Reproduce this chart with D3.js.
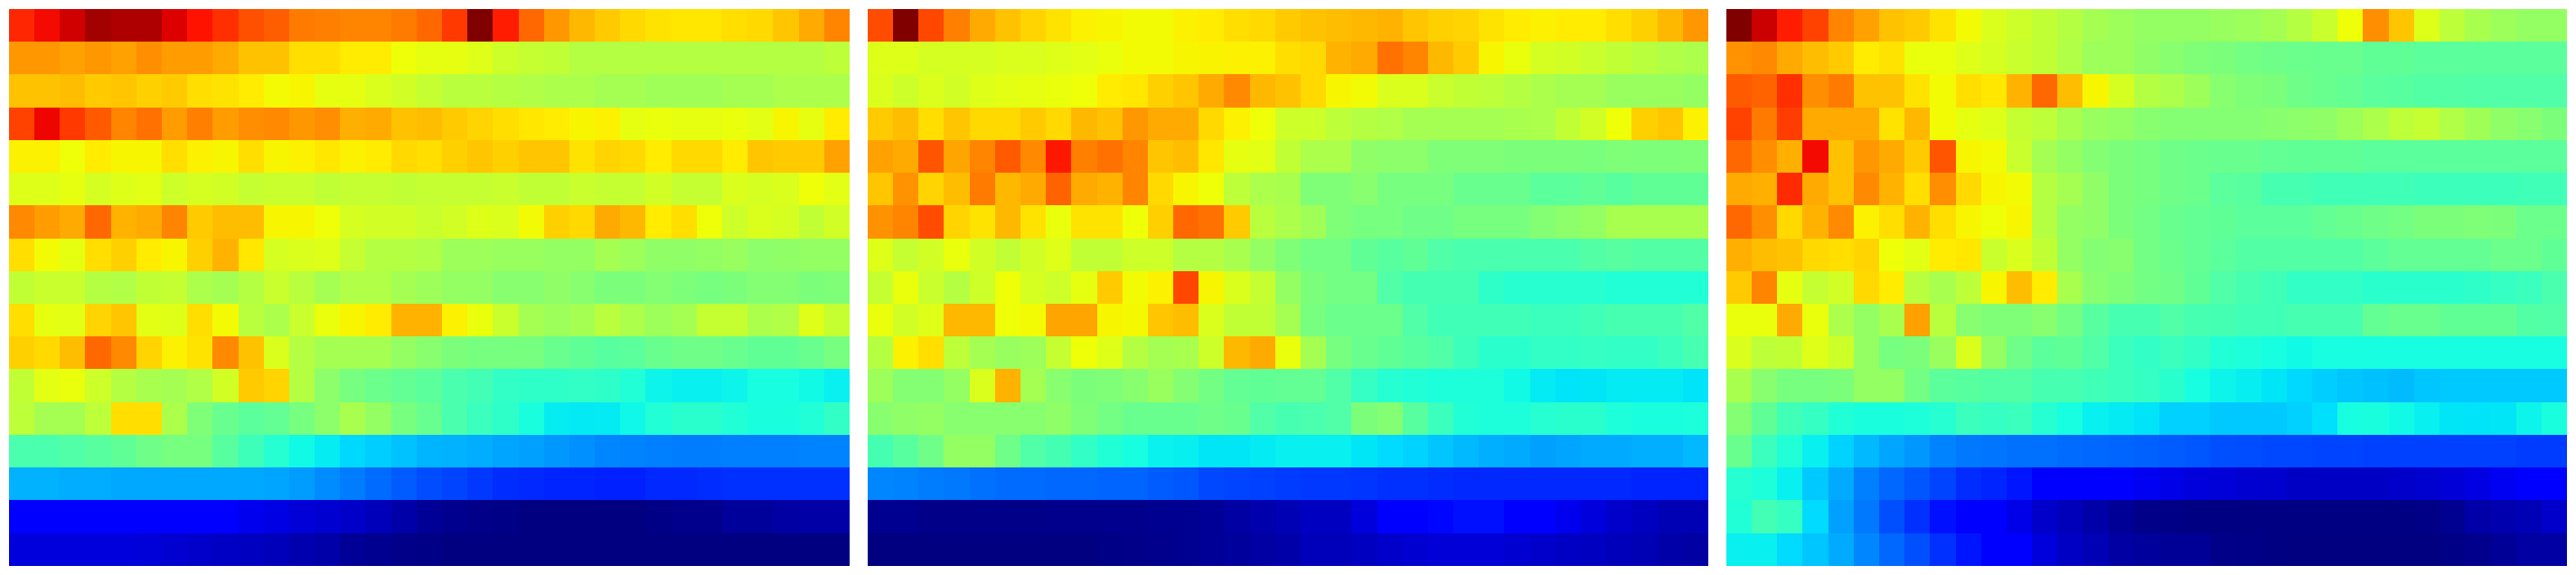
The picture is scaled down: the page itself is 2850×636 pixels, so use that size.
<!DOCTYPE html>
<html>
<head>
<meta charset="utf-8">
<style>html,body{margin:0;padding:0;background:#fff}svg{display:block}</style>
<script src="https://cdn.jsdelivr.net/npm/d3@7"></script>
</head>
<body>
<script>
const panelA = [
[87,90,93,97,96,96,92,89,86,82.5,81,78,77.5,77,77,78,80, 85,100,88,80,75,71.5,69.5,68,67,66.5,66.5,67.5,68,70,73,77],
[75,75,74,75,74,76,74.5,74.5,73,70.5,70.5,67.5,67.5,66,66,64,63, 63,62,60,59,58.5,57,57,57,57,57,57,57,57,57,57,58],
[70.5,70.5,71,69.5,70,69,69.5,67.5,67,66,64.5,65,63,63,61.5,60.5,59, 57.5,57.5,57,56.5,56,56,55,55,54.5,54.5,54.5,55,55,56,56,56],
[84,90.5,85,81.5,77,79,74.5,77.5,74.5,76,76.5,75,76,72.5,73,70.5,71, 69.5,68.5,67.5,66.5,66,65,65.5,63,63.5,63,63,63.5,62.5,65,63,66],
[65.5,65.5,64,66,65,65,67.5,65.5,65,67.5,65,65.5,66.5,65.5,66,68,67.5, 69,70,69,70,70,67,68.5,68,66,68,68,66,70,69.5,69.5,74],
[62,62,63,61,62,62.5,60,61,60.5,59,59.5,59.5,58.5,59,59,58.5,59, 59,59,59.5,58.5,58.5,59.5,59,59,60.5,59,59,61.5,61,61.5,64,62.5],
[76.5,74.5,73,80,72,73,77,69.5,71,71,65,65,64,61,60.5,60.5,59.5, 60.5,62,61.5,64.5,69,68,73,71.5,66,67.5,64,60,61.5,61,58.5,60.5],
[67.5,64.5,63,67.5,69,66,65,69,72,66.5,61,61.5,62,59,57,57,56.5, 54,54,53.5,53.5,53,53,55,54,52.5,52.5,53,53.5,52,52.5,53,53],
[58.5,59.5,59.5,57,56.5,58.5,59,56,55,57,59.5,57.5,55,56.5,56.5,55,54, 53,53,51.5,51.5,52.5,51.5,50,50,51,50.3,49.5,50,51,51,50,50.5],
[67.5,63,62.5,68.5,70,62.5,62,67.5,64.5,57.5,56,59.5,63.5,65,66,72,72, 65.5,63.5,59.5,55,54,55,57.5,56,54,55,59,59,56,56.5,62,59],
[69,68,71,80,76.5,68.5,65.5,67,76.5,70.5,61.5,57,55,55,55,53,51.5, 50,49.5,49.5,49.5,47.7,46.7,45.7,46,47.7,48.5,48.5,47.7,46.7,46.7,47.7,49.5],
[58.5,62.5,63.5,60,57,55.5,55,56.5,60.5,69.5,68.5,57,52,49.5,48,47,46, 44,43,41,40.5,40.5,41,40.5,39,36.5,36,36,36.5,37.7,37.7,37,36],
[58,55,55,58,67.5,67.5,56,50.5,47.7,46,47,49.5,52,55.5,53,49.5,47.5, 44,42,40.5,38,35.7,35.4,35.5,36.8,39,40,40,39,38,38,39,41],
[44,44,44.7,45.7,46.7,48.5,49.5,49.5,45.7,42.5,39.5,37,35.6,33.8,32.7,31.5,30.3, 30,29.5,28.7,28.2,27.4,26.6,25.8,25.4,25,24.7,24.7,25,25,25,25.4,25.4],
[30,30,29.5,29.5,29,29,29,29,29,29,28.7,27.8,26.2,24.7,23,21.5,20, 19.2,18,16.8,16.4,16,16,15.6,15.6,16.4,16.4,16.8,17.2,17.2,17.2,17.2,17.2],
[11.5,11.5,11.5,11.5,11.5,11.5,11.5,11.5,11.5,9.5,8.7,7.5,7,6.2,5,3.5,2, 1.2,.8,.5,0,0,0,0,0,.5,1,1,2.3,2.3,3,3.3,3.3],
[8,8,8,8,8,7.6,7,6.5,6,5.6,5,4,3.5,2,1.4,.8,.5, 0,0,0,0,0,0,0,0,0,0,0,0,0,0,0,0]
];
const panelB = [
[83,100,83.5,77.5,73,70.5,68.5,67,65.5,65,64.5,64.5,65.5,66,67.5,68,69.5, 70.5,71,71.5,72,70,69,68.5,67,66,65.5,66,66,67.5,69,71.5,75],
[62,62,61,61,61,61.5,61.5,62,62.5,63.5,64.5,64.5,65,65.3,65.5,65.5,67.5, 68,72,73,79,77,71.5,69.5,65,63.5,61,60.5,59.5,58.5,57.5,56.5,56],
[61.5,60,61.5,60.5,62,62.5,63,63.5,64,66,66.5,69,70,73,76.5,71.5,70.5, 68,65,64.5,61.5,61.5,59.5,58.5,58,57,56,55,55,53.5,53.5,53.5,53],
[69.5,71,67.5,70,68,68,69.5,68,71.5,70.5,75,73,73,68,65.5,64,60, 60,58,57,56.5,55,55,55,55,55.5,56,58.5,60.5,64,69,70,65.5],
[74,73,82,73.5,77,81.5,76.5,88.5,77.5,79,77,70,71,66.5,63,62.5,58.5, 56,56,52.5,52,52,50.5,50.5,50.5,50,50,50,49.8,50.5,50.2,50.2,50.5],
[70,75.5,68.5,71,78,71.5,73,80.5,73,72,77,68,65,64,58,56,55.5, 50.5,50.5,51.5,49.5,49.5,49.5,47.7,47.7,47.7,46,46,46.7,45.7,46.7,46.7,46.7],
[75.5,77,83,68.5,67,71.5,67,63.5,67,67,64,69,80,79,69.5,57.5,56, 54.5,50.5,49.5,49.5,48.5,48.5,49.5,49.5,49.5,51,52,53,55.5,55.5,55.5,55.5],
[62,59,60.5,63.5,60.5,58.5,60.5,62,58.5,58.5,60,60,57,57,55.5,53,50.5, 49,49,46.7,45.7,46.7,44.7,44,44,44,44,44,45,45.5,45,45,45],
[59,63.5,59.5,57,60,64,61,60,63,69.5,64.5,65.5,83.5,65,61.5,59,53, 50,49,49,44.7,43.3,43.3,43.3,40.5,39.7,39.7,39.7,39.7,39,39,39,39],
[63.5,60.5,62,71.5,71.5,64,64.5,73.5,73.5,65,64.7,70,71,61.5,58.5,58.5,55, 49.5,48,48,48,44.7,42.8,42.8,42.8,42.8,42,42,42.8,43.6,43.6,43.6,44.7],
[57,65.5,67.5,58,55,53.5,54,59,64,62,57,55,55.5,60,71.5,73,63.5, 55,49.5,47.7,46.7,45.7,44.7,42.3,40,40,41,41,41.4,41,41,42,43.6],
[54,51,51,53,61.5,72,55,51.5,50,50.5,51.5,53.5,51,49,47,46.7,47, 47,44.7,41.4,39.5,39,38.5,38.5,38.5,37,35.5,34.8,35,35.5,35.5,35.5,34.8],
[51.5,52.5,53,51.5,51.5,51.5,51.5,52.5,50.5,49,47.7,47.7,47.7,48.5,47.7,44.7,43.6, 44,44.7,50,51,45.7,42,39,38.5,38.5,39.5,40,40,38.5,38,38,38.5],
[43.3,45.7,48.5,53,53,48.5,44.7,43.3,41,39,37.7,36.2,35.9,35,35,35.5,36, 36,36,35,34,33.2,31.8,30.7,29.7,29.3,28.2,28.7,29.3,29.3,29.7,29.7,30.7],
[25.8,25.4,24.7,24.4,23.5,23,23,22.7,22.7,22.3,22.3,21.5,21,19.6,19.2,18.8,18.4, 18,18,17.6,17.2,17.2,16.8,16.4,16.4,16.4,16.4,16.4,16.4,16.4,16,16,16],
[1.4,1.4,.8,.8,.8,.8,.8,1,1,1,1,1.4,1.4,2,3,3.8,4.5, 5.6,5.6,8,11.5,11.5,13,14,14,12,11.5,9.5,8,6.5,5.6,4.5,4.5],
[0,0,0,0,0,0,0,0,0,.5,.8,1,1.4,2,2.5,3,3.5, 5,5,5.6,6.5,7,7.5,7.5,7.5,7,6.5,6,5.6,5,4.5,3.5,3]
];
const panelC = [
[100,93.5,88,84,77,74,70.5,69.5,67,64.5,61.5,60,58.5,57,55,54,53, 53,53,53.5,54,55,57,59.5,64,76,70,62,58,55.5,54,53,53],
[75.5,76.5,73,71,69.5,66,67,63.5,63.5,62,61,59.5,58.5,56.5,54,54,52.5, 51.5,50.5,50,49,48.5,48,47.7,47.7,46.7,46.7,46,46,46,46,46,46],
[81.5,80.5,86,76,78,70.5,70.5,67,64.5,67.5,66.5,72,80,71,65,61,57, 56,54,51.5,50.5,50,48.5,47.7,47,46,45.7,45,45,44.7,44.7,44.7,44.7],
[84,78,84.5,73,73,73,67,71.5,64.5,63,62,59,58,55.5,53.5,53,51.5, 51,51,51,51,51.5,52,52.5,54,56,58,59,56.5,54.5,52.5,51.5,50],
[80,76,72.5,90,70.5,75,73,69.5,82,65,64.5,59.5,55,53,51,50,49.5, 48.5,48,47.7,47.7,47,46.7,46.7,46.7,46,46,46,46,46,46,46,46],
[73,72.5,86.5,73,70.5,76.5,72,67.5,76,68,65,64.5,57,55,52.5,50,49.5, 48.5,48,46,45.7,43.6,43.6,42.8,42.8,42.8,42.8,42.3,42.3,42.3,42.3,42.8,42.8],
[80,76,68,72,76.5,65.5,67.5,72,67.5,65,64,65,57,53,52.5,50,49, 47.7,47,46.7,46,46,46,47,47.7,48.5,49,50,50,50.5,50,48,48],
[72.5,71,70.5,68,67.5,68.5,64,62.5,66,66.5,59.5,61.5,58.5,53,51,51.5,49, 48,47,46,45,45,45,45,45,46,47,47,47,47,48,48,46.7],
[69.5,77,63,59,60.5,68,66,57.5,55.5,58,65,71,66,55.5,51.5,50.5,49, 48.5,46.7,44.7,43.6,42.8,41,41,41,40,40,40,40,40.5,41.4,42,44],
[63.5,63.5,73,63.5,56,53,55.5,74,57.5,51.5,50.5,50.5,51.5,49,45.7,43.6,43.6, 44.7,43.6,43.3,42.8,42.8,43.6,43.6,43.6,47,47.7,47.7,46.7,46.7,46.7,45,44.7],
[61.5,58,58.5,62,60,53,49.5,50,53.5,61.5,53,48.5,46,46.7,44.7,42,41, 42,41,39,38.5,37.7,37,37.7,37.7,37.7,37.7,37.7,37.7,37.7,37.7,37.7,37.7],
[55.5,51.5,49.5,49.5,50,53,53,49,46,45.7,45,45,43.6,43.6,42.8,42,41.4, 40,37.7,36.5,35.8,35,33.8,32.7,31.9,31.4,31,31.9,32.2,32.2,32.2,32.2,32.2],
[51,46.7,42.8,41.4,39,38,38,38.5,39.5,42,41.4,42,39.5,37.7,36,35.5,34.8, 33,33,32.2,32.2,32.2,33,34.4,37.7,38,37,36,35,34.8,35,36.5,38],
[47.7,42,39,36,33.2,30.7,28.7,27.4,25.4,24.4,24,23.5,23.5,23,22.7,22.3,22, 21.5,21,20.3,20,19.6,19.6,19.2,19.2,18.8,18.8,18.8,18.8,18.8,18.8,18.4,18.4],
[39.5,38.5,36,32.2,29.3,25,22.7,21,19.2,16.8,16,14.6,12,12,12,11.5,10, 9,8,7.6,7,6.8,6,6,6,6,6.5,6.8,7.5,8.5,10,11.5,11.5],
[39,43,41.4,34,28.2,24.4,20.3,17.2,14,12,11.5,9,6.5,5,3.5,2,.8, .5,.2,.3,.3,.3,.3,.3,.3,.3,.3,.5,1.5,3.5,4,4.5,6.5],
[36,36,34,31.9,29.3,25.8,22.7,20.3,17.2,14.6,12,11.5,8,6,4.5,3,2.5, 2,2,.8,.5,.2,0,0,0,0,0,0,.5,1,2,3,3]
];
const panels = [panelA, panelB, panelC];
const rowCount = panelA.length;
const colCount = panelA[0].length;

// Jet colormap: the stops of the piecewise linear channels.
const jetStops  = [0,.11,.125,.34,.35,.375,.64,.65,.66,.89,.91,1];
const jetColors = ["rgb(0,0,128)","rgb(0,0,255)","rgb(0,0,255)","rgb(0,219,255)","rgb(0,230,247)",
  "rgb(21,255,226)","rgb(238,255,8)","rgb(247,246,0)","rgb(255,236,0)","rgb(255,19,0)","rgb(232,0,0)","rgb(128,0,0)"];

const width = 2850, height = 636;
const color = d3.scaleLinear().domain(jetStops.map(d => d * 100)).range(jetColors)
  .interpolate(d3.interpolateRgb).clamp(true);

const svg = d3.select("body").append("svg").attr("width", width).attr("height", height);
svg.append("rect").attr("width", width).attr("height", height).attr("fill", "#fff");

// Panel origin, and cell edges that land on whole pixels as an image would.
const px = d3.scaleLinear().domain([0, panels.length]).range([0, 2850]);
const xEdge = d3.scaleLinear().domain([0, colCount]).range([9.9, 939.9]);
const yEdge = d3.scaleLinear().domain([0, rowCount]).range([9.9, 625.9]);
const snap = (s, i) => Math.round(s(i));

panels.forEach((panel, p) => {
  const g = svg.append("g").attr("transform", `translate(${px(p)},0)`);
  panel.forEach((row, r) => {
    g.selectAll(null).data(row).join("rect")
      .attr("x", (d, c) => snap(xEdge, c))
      .attr("y", snap(yEdge, r))
      .attr("width", (d, c) => snap(xEdge, c + 1) - snap(xEdge, c))
      .attr("height", snap(yEdge, r + 1) - snap(yEdge, r))
      .attr("fill", d => color(d))
      .attr("shape-rendering", "crispEdges");
  });
});
</script>
</body>
</html>
